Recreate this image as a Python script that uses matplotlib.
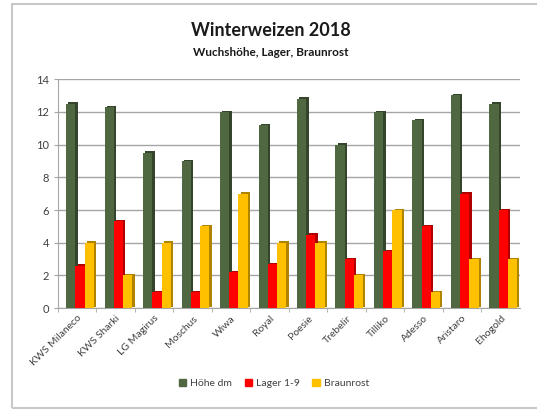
import matplotlib.pyplot as plt
import matplotlib.patches as mpatches
import numpy as np

plt.rcParams['font.family'] = ['Lato', 'DejaVu Sans']

# Sorten und Messwerte
sorten = ['KWS Milaneco', 'KWS Sharki', 'LG Magirus', 'Moschus', 'Wiwa', 'Royal',
          'Poesie', 'Trebelir', 'Tilliko', 'Adesso', 'Aristaro', 'Ehogold']
hoehe_dm = [12.5, 12.3, 9.5, 9.0, 12.0, 11.2, 12.8, 10.0, 12.0, 11.5, 13.0, 12.5]
lager = [2.6, 5.3, 1.0, 1.0, 2.2, 2.7, 4.5, 3.0, 3.5, 5.0, 7.0, 6.0]
braunrost = [4, 2, 4, 5, 7, 4, 4, 2, 6, 1, 3, 3]

series = [('Höhe dm', hoehe_dm, '#4f6842', '#34452b'),
          ('Lager 1-9', lager, '#ff0000', '#b00000'),
          ('Braunrost', braunrost, '#ffc000', '#b08400')]

fig = plt.figure(figsize=(5.37, 4.12), dpi=100)
# chart frame
fig.patches.append(mpatches.Rectangle((12 / 537, 4 / 412), 1.0, 404 / 412,
                                      transform=fig.transFigure, fill=False,
                                      edgecolor='#c8c8c8', linewidth=1.5))

ax = fig.add_axes([0.108, 0.252, 0.86, 0.556])
x = np.arange(len(sorten))
w = 0.24
shift = 0.07
for k, (name, vals, col, dark) in enumerate(series):
    pos = x + (k - 1) * w + shift
    # darker side face for a slight 3D look
    ax.bar(pos + 0.06, vals, w, bottom=0.08, color=dark, zorder=2 + k * 2)
    ax.bar(pos, vals, w, color=col, zorder=3 + k * 2, label=name)

ax.set_xlim(-0.5, len(sorten) - 0.5)
ax.set_ylim(0, 14)
ax.set_yticks(range(0, 15, 2))
ax.yaxis.grid(True, color='#a6a6a6', linewidth=1)
ax.set_axisbelow(True)
for s in ['top', 'right']:
    ax.spines[s].set_visible(False)
ax.spines['left'].set_color('#a6a6a6')
ax.spines['bottom'].set_color('#a6a6a6')
ax.set_xticks(x - 0.5, minor=True)
ax.set_xticks(x)
ax.set_xticklabels(sorten, rotation=45, ha='right', rotation_mode='anchor',
                   fontsize=7.5, color='#404040')
ax.tick_params(axis='x', which='major', length=0, pad=4)
ax.tick_params(axis='x', which='minor', length=3, color='#a6a6a6')
ax.tick_params(axis='y', labelsize=8, colors='#404040', length=3)
ax.tick_params(axis='y', color='#a6a6a6')

fig.text(0.505, 0.925, 'Winterweizen 2018', ha='center', va='center',
         fontsize=13, fontweight='bold', color='#1a1a1a')
fig.text(0.505, 0.872, 'Wuchshöhe, Lager, Braunrost', ha='center', va='center',
         fontsize=8.5, fontweight='bold', color='#1a1a1a')

handles = [mpatches.Patch(color=c) for _, _, c, _ in series]
fig.legend(handles, [n for n, _, _, _ in series], loc='center',
           bbox_to_anchor=(0.51, 0.07), ncol=3, frameon=False, fontsize=7.5,
           handlelength=0.7, handleheight=0.7, handletextpad=0.4, columnspacing=1.2,
           labelcolor='#404040')

fig.savefig('out.png', dpi=100)
